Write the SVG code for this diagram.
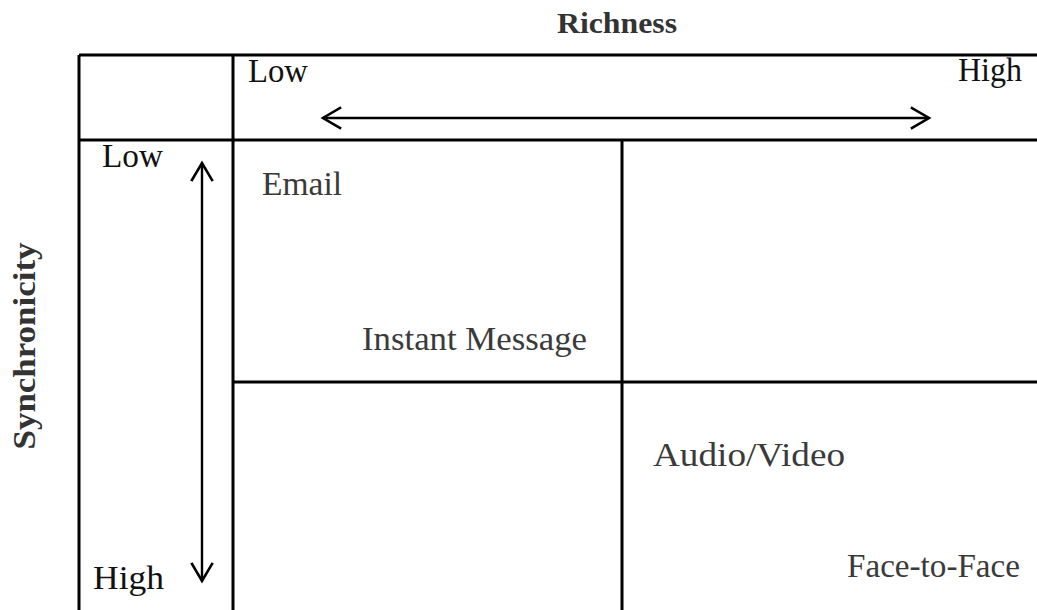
<svg xmlns="http://www.w3.org/2000/svg" width="1037" height="610" viewBox="0 0 1037 610">
<style>
.grid{stroke:#000;stroke-width:3;fill:none}
.arr{stroke:#000;stroke-width:2.4;fill:none}
.head{stroke:#000;stroke-width:2.6;fill:none;stroke-linecap:square}
.ax{font-family:"Liberation Serif",serif;font-size:33px;fill:#111}
.lbl{font-family:"Liberation Serif",serif;font-size:34px;fill:#3a3a3a}
.ttl{font-family:"Liberation Serif",serif;font-size:29px;font-weight:bold;fill:#333}
</style>
<rect width="1037" height="610" fill="#fff"/>
<g id="grid">
<line class="grid" x1="79" y1="55" x2="1037" y2="55"/>
<line class="grid" x1="79" y1="140" x2="1037" y2="140"/>
<line class="grid" x1="233" y1="382" x2="1037" y2="382"/>
<line class="grid" x1="79" y1="55" x2="79" y2="610"/>
<line class="grid" x1="233" y1="55" x2="233" y2="610"/>
<line class="grid" x1="622" y1="140" x2="622" y2="610"/>
</g>
<g id="titles">
<text class="ttl" x="617" y="33" text-anchor="middle" textLength="120" lengthAdjust="spacingAndGlyphs">Richness</text>
<text class="ttl" transform="translate(35,346) rotate(-90)" text-anchor="middle" textLength="207" lengthAdjust="spacingAndGlyphs" style="font-size:31px">Synchronicity</text>
</g>
<g id="axis-labels">
<text class="ax" x="248" y="82" textLength="60" lengthAdjust="spacingAndGlyphs">Low</text>
<text class="ax" x="958" y="81" textLength="64" lengthAdjust="spacingAndGlyphs">High</text>
<text class="ax" x="102" y="167" textLength="61" lengthAdjust="spacingAndGlyphs">Low</text>
<text class="ax" x="93" y="589" textLength="71" lengthAdjust="spacingAndGlyphs">High</text>
</g>
<g id="connectors">
<line class="arr" x1="323" y1="118" x2="929" y2="118"/>
<polyline class="head" points="340,108 323,118 340,128"/>
<polyline class="head" points="912,108 929,118 912,128"/>
<line class="arr" x1="202" y1="163" x2="202" y2="581"/>
<polyline class="head" points="192,180 202,163 212,180"/>
<polyline class="head" points="192,564 202,581 212,564"/>
</g>
<g id="node-email"><text class="lbl" x="262" y="195" textLength="80" lengthAdjust="spacingAndGlyphs">Email</text></g>
<g id="node-im"><text class="lbl" x="362" y="350" textLength="225" lengthAdjust="spacingAndGlyphs">Instant Message</text></g>
<g id="node-av"><text class="lbl" x="653" y="466" textLength="192" lengthAdjust="spacingAndGlyphs">Audio/Video</text></g>
<g id="node-f2f"><text class="lbl" x="847" y="577" textLength="173" lengthAdjust="spacingAndGlyphs">Face-to-Face</text></g>
</svg>
